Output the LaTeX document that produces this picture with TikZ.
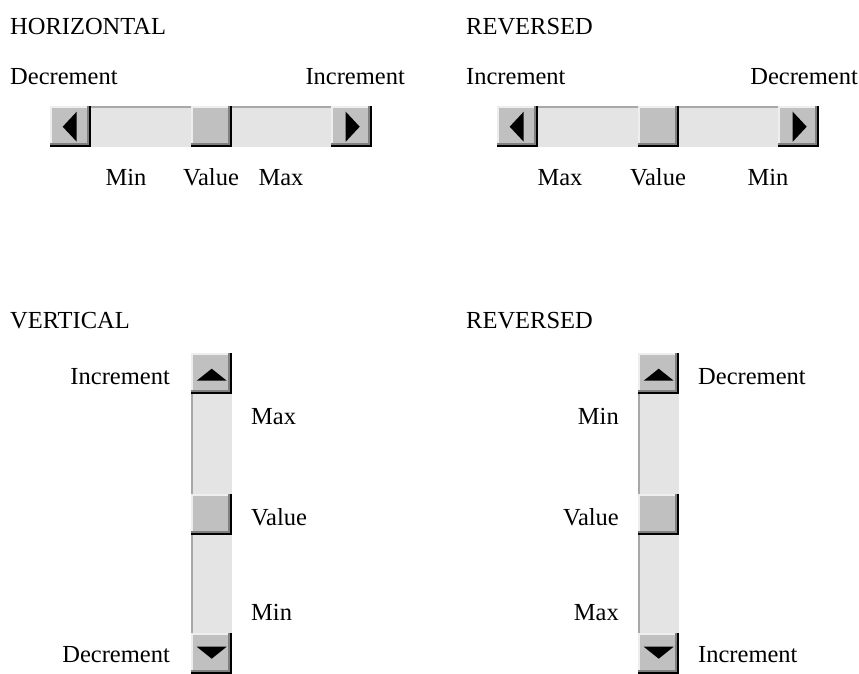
\documentclass[tikz,border=0pt]{standalone}
\usepackage{fontspec}
\setmainfont{Liberation Serif}
\begin{document}
\begin{tikzpicture}[x=1pt,y=-1pt,
  lbl/.style={inner sep=0pt, font=\fontsize{24.5}{28}\selectfont},
  trough/.style={rectangle, inner sep=0pt, fill=troughgray},
  htrough/.style={trough, minimum height=41pt,
    path picture={\fill[shadegray] (path picture bounding box.north west) rectangle ([yshift=-1.5pt]path picture bounding box.north east);}},
  vtrough/.style={trough, minimum width=41pt,
    path picture={\fill[shadegray] (path picture bounding box.north west) rectangle ([xshift=1.5pt]path picture bounding box.south west);}},
  raised/.style={rectangle, inner sep=0pt, fill=facegray, minimum width=41pt, minimum height=41pt,
    path picture={
      \fill[lightedge] (path picture bounding box.north west) rectangle ([yshift=-1.5pt]path picture bounding box.north east);
      \fill[lightedge] (path picture bounding box.north west) rectangle ([xshift=1.5pt]path picture bounding box.south west);
      \fill[darkedge] ([yshift=4pt]path picture bounding box.south west) rectangle ([xshift=-2.5pt]path picture bounding box.south east);
      \fill[darkedge] ([xshift=-4pt]path picture bounding box.north east) rectangle (path picture bounding box.south east);
      \fill[black] ([yshift=2.5pt]path picture bounding box.south west) rectangle (path picture bounding box.south east);
      \fill[black] ([xshift=-2.5pt]path picture bounding box.north east) rectangle (path picture bounding box.south east);
    }},
  arrowtip/.style={fill=black}
]
\definecolor{troughgray}{HTML}{E4E4E4}
\definecolor{shadegray}{HTML}{A8A8A8}
\definecolor{facegray}{HTML}{C0C0C0}
\definecolor{lightedge}{HTML}{EEEEEE}
\definecolor{darkedge}{HTML}{808080}

\useasboundingbox[fill=white] (0,0) rectangle (859,674);

% ---------- horizontal scrollbar ----------
\node[lbl, anchor=base west] (t1) at (10,35) {HORIZONTAL};
\node[lbl, anchor=base west] (hdec) at (10,85) {Decrement};
\node[lbl, anchor=base east] (hinc) at (405,85) {Increment};

\node[htrough, minimum width=100pt, anchor=north west] (htr1) at (91,106) {};
\node[htrough, minimum width=100pt, anchor=north west] (htr2) at (232,106) {};
\node[raised, anchor=north west] (hleft) at (50,106) {};
\node[raised, anchor=north west] (hthumb) at (191,106) {};
\node[raised, anchor=north west] (hright) at (331,106) {};
\fill[arrowtip] ([xshift=-8pt]hleft.center) -- ++(14,-15) -- ++(0,30) -- cycle;
\fill[arrowtip] ([xshift=8pt]hright.center) -- ++(-14,-15) -- ++(0,30) -- cycle;

\node[lbl, anchor=base] (hmin) at (126,185) {Min};
\node[lbl, anchor=base] (hval) at (211,185) {Value};
\node[lbl, anchor=base] (hmax) at (281,185) {Max};

% ---------- horizontal scrollbar, reversed ----------
\node[lbl, anchor=base west] (t2) at (466,35) {REVERSED};
\node[lbl, anchor=base west] (rinc) at (466,85) {Increment};
\node[lbl, anchor=base east] (rdec) at (858,85) {Decrement};

\node[htrough, minimum width=100pt, anchor=north west] (rtr1) at (538,106) {};
\node[htrough, minimum width=100pt, anchor=north west] (rtr2) at (679,106) {};
\node[raised, anchor=north west] (rleft) at (497,106) {};
\node[raised, anchor=north west] (rthumb) at (638,106) {};
\node[raised, anchor=north west] (rright) at (778,106) {};
\fill[arrowtip] ([xshift=-8pt]rleft.center) -- ++(14,-15) -- ++(0,30) -- cycle;
\fill[arrowtip] ([xshift=8pt]rright.center) -- ++(-14,-15) -- ++(0,30) -- cycle;

\node[lbl, anchor=base] (rmax) at (560,185) {Max};
\node[lbl, anchor=base] (rval) at (658,185) {Value};
\node[lbl, anchor=base] (rmin) at (768,185) {Min};

% ---------- vertical scrollbar ----------
\node[lbl, anchor=base west] (t3) at (10,328) {VERTICAL};

\node[vtrough, minimum height=100pt, anchor=north west] (vtr1) at (191,394) {};
\node[vtrough, minimum height=100pt, anchor=north west] (vtr2) at (191,535) {};
\node[raised, anchor=north west] (vup) at (191,353) {};
\node[raised, anchor=north west] (vthumb) at (191,494) {};
\node[raised, anchor=north west] (vdown) at (191,633) {};
\fill[arrowtip] ([yshift=5pt]vup.center) -- ++(-15,12) -- ++(30,0) -- cycle;
\fill[arrowtip] ([yshift=-5pt]vdown.center) -- ++(-15,-12) -- ++(30,0) -- cycle;

\node[lbl, anchor=base east] (vinc) at (170,384) {Increment};
\node[lbl, anchor=base east] (vdec) at (170,662) {Decrement};
\node[lbl, anchor=base west] (vmax) at (251,424) {Max};
\node[lbl, anchor=base west] (vval) at (251,525) {Value};
\node[lbl, anchor=base west] (vmin) at (251,620) {Min};

% ---------- vertical scrollbar, reversed ----------
\node[lbl, anchor=base west] (t4) at (466,328) {REVERSED};

\node[vtrough, minimum height=100pt, anchor=north west] (wtr1) at (638,394) {};
\node[vtrough, minimum height=100pt, anchor=north west] (wtr2) at (638,535) {};
\node[raised, anchor=north west] (wup) at (638,353) {};
\node[raised, anchor=north west] (wthumb) at (638,494) {};
\node[raised, anchor=north west] (wdown) at (638,633) {};
\fill[arrowtip] ([yshift=5pt]wup.center) -- ++(-15,12) -- ++(30,0) -- cycle;
\fill[arrowtip] ([yshift=-5pt]wdown.center) -- ++(-15,-12) -- ++(30,0) -- cycle;

\node[lbl, anchor=base west] (wdec) at (698,384) {Decrement};
\node[lbl, anchor=base west] (winc) at (698,662) {Increment};
\node[lbl, anchor=base east] (wmin) at (619,424) {Min};
\node[lbl, anchor=base east] (wval) at (619,525) {Value};
\node[lbl, anchor=base east] (wmax) at (619,620) {Max};
\end{tikzpicture}
\end{document}
